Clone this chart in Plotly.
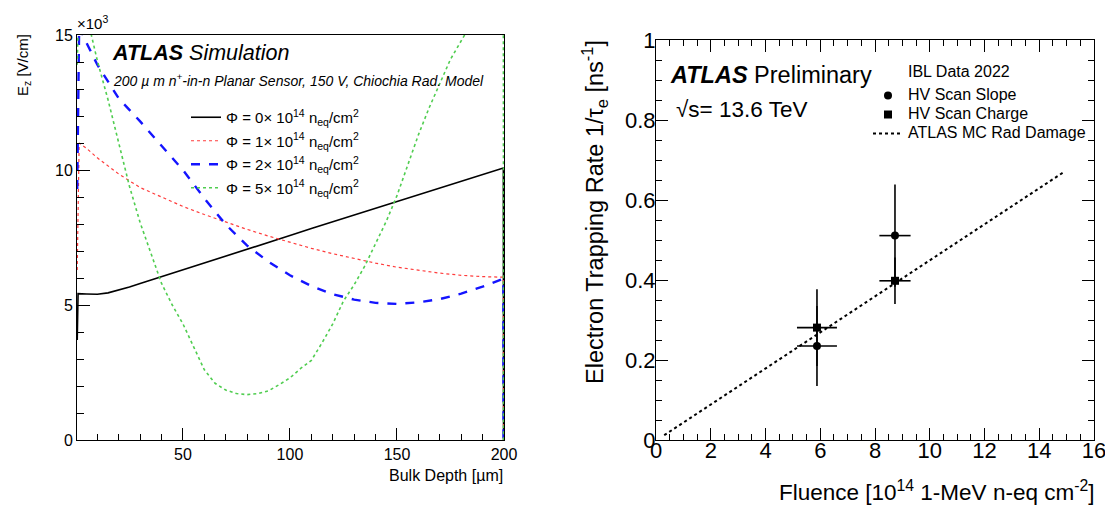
import plotly.graph_objects as go

W, H = 1113, 507


def px(x):
    return x / W


def py(y):
    return 1 - y / H


# ---------------- Left panel data: E_z [10^3 V/cm] vs bulk depth [um] ----------------
depth_phi0 = [0.6, 1.0, 5, 10, 15, 20, 25, 30, 40, 50, 60, 70, 80, 90, 100, 110, 120, 130,
              140, 150, 160, 170, 180, 190, 199.7, 199.8]
ez_phi0 = [3.7, 5.42, 5.41, 5.4, 5.45, 5.55, 5.67, 5.8, 6.05, 6.3, 6.55, 6.8, 7.07, 7.32, 7.57,
           7.83, 8.08, 8.33, 8.58, 8.83, 9.07, 9.32, 9.57, 9.82, 10.07, 0.0]

depth_phi1 = [0.6, 1.5, 5, 10, 20, 30, 40, 50, 60, 70, 80, 90, 100, 110, 120, 130, 140, 150,
              160, 170, 180, 190, 199.7, 199.8]
ez_phi1 = [6.3, 11.0, 10.8, 10.45, 9.85, 9.35, 9.0, 8.65, 8.35, 8.07, 7.8, 7.55, 7.32, 7.1,
           6.9, 6.72, 6.55, 6.4, 6.28, 6.18, 6.1, 6.05, 6.03, 0.0]

depth_phi2 = [0.6, 1.5, 3, 5, 10, 15, 20, 30, 40, 50, 60, 70, 80, 90, 100, 110, 120, 130, 140,
              150, 160, 170, 180, 190, 199.7, 199.8]
ez_phi2 = [9.3, 15.3, 15.05, 14.7, 13.9, 13.25, 12.65, 11.8, 10.9, 10.0, 8.95, 7.98, 7.2, 6.6,
           6.1, 5.7, 5.4, 5.2, 5.08, 5.04, 5.1, 5.22, 5.42, 5.68, 5.97, 0.0]

depth_phi5 = [0.6, 1.5, 5, 7.2, 10, 15, 20, 25, 30, 35, 40, 45, 50, 55, 60, 65, 70, 75, 80, 85,
              90, 95, 100, 105, 110, 115, 120, 125, 130, 135, 140, 145, 150, 155, 160, 165, 170,
              175, 181.6, 190, 199.7, 199.8]
ez_phi5 = [13.9, 17.0, 16.0, 15.0, 14.05, 12.6, 11.0, 9.4, 8.05, 6.9, 5.8, 5.0, 4.3, 3.45, 2.6,
           2.1, 1.85, 1.72, 1.68, 1.72, 1.82, 2.05, 2.3, 2.65, 2.95, 3.6, 4.3, 5.15, 5.75, 6.45,
           7.3, 8.1, 9.05, 10.2, 11.3, 12.3, 13.2, 14.1, 15.0, 16.5, 18.0, 0.0]

left_names = [
    "Φ = 0× 10<sup>14</sup> n<sub>eq</sub>/cm<sup>2</sup>",
    "Φ = 1× 10<sup>14</sup> n<sub>eq</sub>/cm<sup>2</sup>",
    "Φ = 2× 10<sup>14</sup> n<sub>eq</sub>/cm<sup>2</sup>",
    "Φ = 5× 10<sup>14</sup> n<sub>eq</sub>/cm<sup>2</sup>",
]

# ---------------- Right panel data: trapping rate vs fluence ----------------
fluence_slope = [5.88, 8.73]
rate_slope = [0.235, 0.511]
fluence_err_slope = [0.73, 0.57]
rate_err_slope = [0.10, 0.128]

fluence_charge = [5.88, 8.73]
rate_charge = [0.281, 0.398]
fluence_err_charge = [0.73, 0.57]
rate_err_charge = [0.096, 0.058]

mc_fluence = [0.3, 14.9]
mc_rate = [0.012, 0.67]

right_names = ["HV Scan Slope", "HV Scan Charge", "ATLAS MC Rad Damage"]

FONT = "Liberation Sans, Arial, Helvetica, sans-serif"


def big(t, size=16):
    return "<span style='font-size:%dpx'>%s</span>" % (size, t)


fig = go.Figure()

left_style = [
    dict(color="black", width=1.6, dash="solid"),
    dict(color="rgb(255,60,60)", width=1.2, dash="dot"),
    dict(color="rgb(20,20,255)", width=2.4, dash="dash"),
    dict(color="rgb(80,205,80)", width=1.6, dash="dot"),
]
left_x = [depth_phi0, depth_phi1, depth_phi2, depth_phi5]
left_y = [ez_phi0, ez_phi1, ez_phi2, ez_phi5]
for i in range(4):
    fig.add_trace(go.Scatter(
        x=left_x[i], y=left_y[i], mode="lines", line=left_style[i],
        name=left_names[i], xaxis="x", yaxis="y", legend="legend",
        legendgroup="g%d" % i,
    ))

err_line = dict(color="black", thickness=1.6, width=0)
fig.add_trace(go.Scatter(
    x=mc_fluence, y=mc_rate, mode="lines",
    line=dict(color="black", width=2, dash="dot"),
    name=big(right_names[2]), xaxis="x2", yaxis="y2", legend="legend2",
    legendrank=3,
))
fig.add_trace(go.Scatter(
    x=fluence_slope, y=rate_slope, mode="markers",
    marker=dict(symbol="circle", size=8, color="black"),
    error_x=dict(type="data", array=fluence_err_slope, **err_line),
    error_y=dict(type="data", array=rate_err_slope, **err_line),
    name=big(right_names[0]), xaxis="x2", yaxis="y2", legend="legend2", legendrank=1,
))
fig.add_trace(go.Scatter(
    x=fluence_charge, y=rate_charge, mode="markers",
    marker=dict(symbol="square", size=8, color="black"),
    error_x=dict(type="data", array=fluence_err_charge, **err_line),
    error_y=dict(type="data", array=rate_err_charge, **err_line),
    name=big(right_names[1]), xaxis="x2", yaxis="y2", legend="legend2", legendrank=2,
))

axis_common = dict(showgrid=False, zeroline=False, showline=True, linecolor="black",
                   linewidth=1, ticks="inside", tickcolor="black", automargin=False)

fig.update_layout(
    width=W, height=H,
    margin=dict(l=0, r=0, t=0, b=0),
    paper_bgcolor="white", plot_bgcolor="white",
    font=dict(family=FONT, color="black"),
    xaxis=dict(domain=[px(69), px(496)], range=[0.5, 200], tickvals=[50, 100, 150, 200],
               ticklen=12, tickwidth=1, mirror=True, anchor="y",
               minor=dict(dtick=10, ticks="inside", ticklen=6, tickcolor="black"),
               tickfont=dict(size=16), **axis_common),
    yaxis=dict(domain=[py(432), py(27)], range=[0, 15], tickvals=[0, 5, 10, 15],
               ticklen=13, tickwidth=1, mirror=True, anchor="x",
               minor=dict(dtick=1, ticks="inside", ticklen=7, tickcolor="black"),
               tickfont=dict(size=16), **axis_common),
    xaxis2=dict(domain=[px(648), px(1086)], range=[0, 16], dtick=2, tick0=0,
                ticklen=12, tickwidth=1, mirror="ticks", anchor="y2",
                minor=dict(dtick=0.5, ticks="inside", ticklen=6, tickcolor="black"),
                ticklabelstandoff=-9,
                tickfont=dict(size=22), **axis_common),
    yaxis2=dict(domain=[py(432), py(32)], range=[0, 1], dtick=0.2, tick0=0,
                ticklen=12, tickwidth=1, mirror="ticks", anchor="x2",
                minor=dict(dtick=0.05, ticks="inside", ticklen=6, tickcolor="black"),
                ticklabelstandoff=-5,
                tickfont=dict(size=22), **axis_common),
    legend=dict(x=px(178), y=py(93), xanchor="left", yanchor="top",
                bgcolor="rgba(0,0,0,0)", font=dict(size=15, family=FONT),
                tracegroupgap=1, traceorder="grouped"),
    legend2=dict(x=px(860), y=py(73), xanchor="left", yanchor="top",
                 bgcolor="rgba(0,0,0,0)", font=dict(size=12, family=FONT),
                 traceorder="normal"),
)

ann = [
    dict(x=px(67), y=py(14), text="×10<sup>3</sup>", xanchor="left", yanchor="middle",
         font=dict(size=15)),
    dict(x=px(15), y=py(24), text="E<sub>z</sub> [V/cm]", textangle=-90, xanchor="center",
         yanchor="top", font=dict(size=15)),
    dict(x=px(497), y=py(467), text="Bulk Depth [µm]", xanchor="right", yanchor="middle",
         font=dict(size=16)),
    dict(x=px(102), y=py(45), text="<b><i>ATLAS</i></b><i> Simulation</i>", xanchor="left",
         yanchor="middle", font=dict(size=21.5)),
    dict(x=px(103), y=py(72),
         text="<i>200 µ m n<sup>+</sup>-in-n Planar Sensor, 150 V, Chiochia Rad. Model</i>",
         xanchor="left", yanchor="middle", font=dict(size=14)),
    dict(x=px(586), y=py(30), text="Electron Trapping Rate 1/τ<sub>e</sub> [ns<sup>-1</sup>]",
         textangle=-90, xanchor="center", yanchor="top", font=dict(size=23.5)),
    dict(x=px(1088), y=py(499), text="Fluence [10<sup>14</sup> 1-MeV n-eq cm<sup>-2</sup>]",
         xanchor="right", yanchor="bottom", font=dict(size=22.5)),
    dict(x=px(660), y=py(67), text="<b><i>ATLAS</i></b> Preliminary", xanchor="left",
         yanchor="middle", font=dict(size=23.5)),
    dict(x=px(666), y=py(101), text="√s= 13.6 TeV", xanchor="left", yanchor="middle",
         font=dict(size=22.5)),
    dict(x=px(898), y=py(64), text="IBL Data 2022", xanchor="left", yanchor="middle",
         font=dict(size=16)),
]
for a in ann:
    a.update(xref="paper", yref="paper", showarrow=False)
    a["font"]["family"] = FONT
    a["font"]["color"] = "black"
fig.update_layout(annotations=ann)

fig.write_html("out.html")
